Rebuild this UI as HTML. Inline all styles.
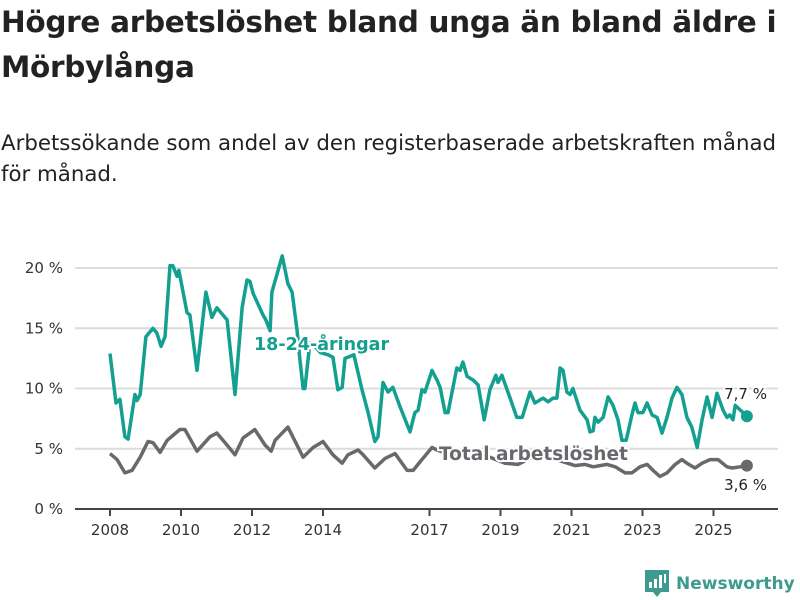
<!DOCTYPE html>
<html><head><meta charset="utf-8">
<style>
body{margin:0;background:#fff;width:800px;height:600px;overflow:hidden;font-family:"DejaVu Sans","Liberation Sans",sans-serif;color:#222}
h1{position:absolute;left:1px;top:0px;margin:0;font-size:29.5px;line-height:45px;font-weight:bold;width:799px;letter-spacing:-0.3px}
p{position:absolute;left:1px;top:128px;margin:0;font-size:21.3px;line-height:31px;width:790px}
svg{position:absolute;left:0;top:0}
</style></head><body>
<h1>Högre arbetslöshet bland unga än bland äldre i Mörbylånga</h1>
<p>Arbetssökande som andel av den registerbaserade arbetskraften månad för månad.</p>
<svg id="chart" width="800" height="600"></svg>
<script>
const yTicks=[0,5,10,15,20];
const yTickLabels=["0 %","5 %","10 %","15 %","20 %"];
const xTicks=[2008,2010,2012,2014,2017,2019,2021,2023,2025];
const youthDates=[2008.00,2008.17,2008.28,2008.42,2008.51,2008.70,2008.76,2008.85,2009.01,2009.21,2009.32,2009.44,2009.55,2009.69,2009.77,2009.89,2009.94,2010.17,2010.25,2010.45,2010.70,2010.87,2011.01,2011.18,2011.30,2011.52,2011.72,2011.86,2011.94,2012.03,2012.31,2012.39,2012.51,2012.56,2012.85,2013.01,2013.13,2013.27,2013.35,2013.44,2013.49,2013.63,2013.77,2013.92,2014.14,2014.28,2014.42,2014.54,2014.62,2014.87,2015.10,2015.27,2015.46,2015.55,2015.69,2015.83,2015.97,2016.17,2016.45,2016.59,2016.68,2016.79,2016.87,2017.07,2017.21,2017.30,2017.44,2017.52,2017.77,2017.86,2017.94,2018.06,2018.23,2018.37,2018.54,2018.70,2018.87,2018.93,2019.04,2019.27,2019.46,2019.61,2019.83,2019.97,2020.20,2020.34,2020.48,2020.59,2020.68,2020.76,2020.87,2020.96,2021.04,2021.24,2021.44,2021.52,2021.61,2021.66,2021.75,2021.89,2022.03,2022.17,2022.31,2022.42,2022.54,2022.70,2022.79,2022.87,2023.01,2023.13,2023.27,2023.41,2023.55,2023.69,2023.83,2023.97,2024.11,2024.25,2024.39,2024.54,2024.68,2024.82,2024.96,2025.10,2025.27,2025.38,2025.46,2025.55,2025.61,2025.94];
const youthValues=[12.9,8.8,9.1,6.0,5.8,9.5,9.0,9.5,14.3,15.0,14.6,13.5,14.3,20.2,20.2,19.3,19.8,16.3,16.1,11.5,18.0,15.9,16.7,16.1,15.7,9.5,16.7,19.0,18.9,17.9,16.1,15.7,14.8,18.0,21.0,18.7,18.0,14.8,12.4,10.0,10.0,13.8,13.5,13.0,12.8,12.6,9.9,10.1,12.5,12.8,9.9,8.0,5.6,6.0,10.5,9.7,10.1,8.5,6.4,8.0,8.2,9.9,9.7,11.5,10.7,10.1,8.0,8.0,11.7,11.5,12.2,11.0,10.7,10.3,7.4,9.9,11.1,10.5,11.1,9.2,7.6,7.6,9.7,8.8,9.2,8.9,9.2,9.2,11.7,11.5,9.7,9.5,10.0,8.2,7.4,6.4,6.5,7.6,7.2,7.6,9.3,8.6,7.4,5.7,5.7,7.8,8.8,8.0,8.0,8.8,7.8,7.6,6.3,7.6,9.2,10.1,9.5,7.6,6.8,5.1,7.4,9.3,7.6,9.6,8.2,7.6,7.8,7.4,8.6,7.7];
const totalDates=[2008.00,2008.20,2008.42,2008.62,2008.85,2009.07,2009.21,2009.41,2009.61,2009.77,2009.97,2010.11,2010.45,2010.82,2011.01,2011.30,2011.52,2011.75,2012.08,2012.37,2012.54,2012.65,2013.01,2013.44,2013.72,2014.00,2014.28,2014.54,2014.70,2014.99,2015.13,2015.46,2015.75,2016.03,2016.37,2016.54,2016.73,2017.07,2017.21,2017.58,2018.14,2018.70,2019.13,2019.49,2019.83,2020.25,2020.68,2021.10,2021.38,2021.61,2022.00,2022.23,2022.51,2022.70,2022.93,2023.13,2023.30,2023.49,2023.69,2023.92,2024.11,2024.25,2024.48,2024.68,2024.90,2025.13,2025.38,2025.52,2025.75,2025.94];
const totalValues=[4.6,4.1,3.0,3.2,4.3,5.6,5.5,4.7,5.7,6.1,6.6,6.6,4.8,6.0,6.3,5.3,4.5,5.9,6.6,5.3,4.8,5.7,6.8,4.3,5.1,5.6,4.5,3.8,4.5,4.9,4.5,3.4,4.2,4.6,3.2,3.2,3.9,5.1,4.9,4.5,4.8,4.3,3.8,3.7,4.2,4.4,4.0,3.6,3.7,3.5,3.7,3.5,3.0,3.0,3.5,3.7,3.2,2.7,3.0,3.7,4.1,3.8,3.4,3.8,4.1,4.1,3.5,3.4,3.5,3.6];
const youthLast="7,7 %", totalLast="3,6 %";

const NS="http://www.w3.org/2000/svg";
const svg=document.getElementById('chart');
const X=y=>110+(y-2008)*35.5;
const Y=v=>509-v*12.05;
function mk(tag,attrs,parent){const e=document.createElementNS(NS,tag);for(const k in attrs)e.setAttribute(k,attrs[k]);(parent||svg).appendChild(e);return e;}
yTicks.forEach((t,i)=>{
  if(t>0){const g=mk('line',{x1:75,x2:778,y1:Y(t),y2:Y(t),stroke:'#dcdcdc','stroke-width':2});
  
  }
  const l=mk('text',{x:63,y:Y(t)+5,'text-anchor':'end','font-size':15,fill:'#333'});
  l.textContent=yTickLabels[i];
  
  
});
const ax=mk('line',{x1:75,x2:778,y1:509,y2:509,stroke:'#444','stroke-width':2});


xTicks.forEach(t=>{
  const tk=mk('line',{x1:X(t),x2:X(t),y1:509,y2:516,stroke:'#444','stroke-width':2});
  
  
  const l=mk('text',{x:X(t),y:535,'text-anchor':'middle','font-size':15,fill:'#333'});
  l.textContent=t;
  
  
});
function line(dates,vals,color,name){
  const d=dates.map((t,i)=>(i?'L':'M')+X(t).toFixed(1)+','+Y(vals[i]).toFixed(1)).join('');
  const p=mk('path',{d:d,fill:'none',stroke:color,'stroke-width':3.5,'stroke-linejoin':'round'});
  
  
  const n=dates.length-1;
  const c=mk('circle',{cx:X(dates[n]),cy:Y(vals[n]),r:6,fill:color});
  
  
}
line(totalDates,totalValues,'#69686d','total-line');
line(youthDates,youthValues,'#13a090','youth-line');
function label(txt,x,y,color,size,weight,name,anchor){
  const t=mk('text',{x:x,y:y,'font-size':size,'font-weight':weight,fill:color,stroke:'#fff','stroke-width':4,'paint-order':'stroke','text-anchor':anchor||'start'});
  t.textContent=txt;
  
  
}
label('18-24-åringar',254,350,'#13a090',17.5,'bold','youth-series-label');
label('Total arbetslöshet',439,460,'#69686d',18.5,'bold','total-series-label');
label(youthLast,767,399,'#222',15,'normal','youth-last-value','end');
label(totalLast,767,490,'#222',15,'normal','total-last-value','end');
</script>
<div style="position:absolute;left:645px;top:569px;height:30px;display:flex;align-items:center">
<svg width="24" height="28" style="position:static" viewBox="0 0 24 28"><path d="M0 0h24v22h-8l-4 5-4-5H0z" fill="#3d9a8e"/><rect x="4" y="12" width="3" height="6" fill="#fff"/><rect x="9" y="9" width="3" height="9" fill="#fff"/><rect x="14" y="5" width="3" height="13" fill="#fff"/><rect x="19" y="4" width="2" height="9" fill="#fff"/></svg>
<span style="margin-left:7px;font-size:17px;font-weight:bold;color:#3d9a8e">Newsworthy</span></div>
</body></html>
